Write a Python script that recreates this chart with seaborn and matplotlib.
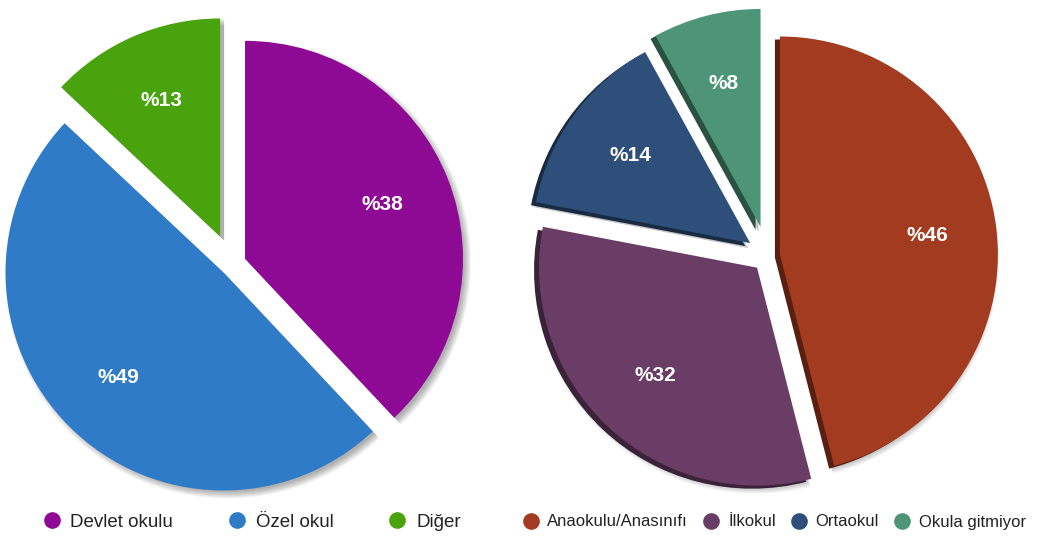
import numpy as np
import seaborn as sns
import matplotlib.pyplot as plt
from matplotlib.lines import Line2D
from matplotlib.colors import to_rgb

# left pie: school type
school_labels = ["Devlet okulu", "Özel okul", "Diğer"]
school_values = [38, 49, 13]
school_colors = ["#8f0a94", "#2f7bc8", "#48a30c"]
school_explode = [14, 12, 30]

# right pie: education level
level_labels = ["Anaokulu/Anasınıfı", "İlkokul", "Ortaokul", "Okula gitmiyor"]
level_values = [46, 32, 14, 8]
level_colors = ["#a23b1f", "#6a3d66", "#2d4f7a", "#4e9478"]
level_explode = [12, 16, 22, 30]

sns.set_theme(style="white")
plt.rcParams["font.family"] = ["Liberation Sans", "DejaVu Sans"]

W, H = 1037, 539
fig = plt.figure(figsize=(W / 100, H / 100), dpi=100)
ax = fig.add_axes([0, 0, 1, 1])

R = 218
left_c = (232, H - 264)
right_c = (768, H - 256)

common = dict(startangle=90, counterclock=False)
label_style = dict(color="white", fontsize=15, fontweight="bold")

# soft grey shadow under the left pie
for k in range(-3, 5):
    ax.pie(school_values, explode=school_explode, radius=R + k,
           center=(left_c[0] + 4, left_c[1] - 4), colors=["black"] * 3,
           wedgeprops=dict(alpha=0.045, linewidth=0), frame=True, **common)

ax.pie(school_values, explode=school_explode, radius=R, center=left_c,
       colors=sns.color_palette(school_colors),
       autopct=lambda p: f"%{p:.0f}", pctdistance=0.68,
       textprops=label_style, wedgeprops=dict(linewidth=0),
       frame=True, **common)

# right pie: soft shadow + dark extruded side, then the face
for k in range(-2, 4):
    ax.pie(level_values, explode=level_explode, radius=R + k,
           center=(right_c[0] - 2, right_c[1] - 5), colors=["black"] * 4,
           wedgeprops=dict(alpha=0.04, linewidth=0), frame=True, **common)
dark = [tuple(np.array(to_rgb(c)) * 0.55) for c in level_colors]
ax.pie(level_values, explode=level_explode, radius=R,
       center=(right_c[0] - 5, right_c[1] - 3), colors=dark,
       wedgeprops=dict(linewidth=0), frame=True, **common)
ax.pie(level_values, explode=level_explode, radius=R, center=right_c,
       colors=sns.color_palette(level_colors),
       autopct=lambda p: f"%{p:.0f}", pctdistance=0.68,
       textprops=label_style, wedgeprops=dict(linewidth=0),
       frame=True, **common)

ax.set_xlim(0, W)
ax.set_ylim(0, H)
ax.set_aspect("equal")
ax.axis("off")


def handles(colors):
    return [Line2D([], [], marker="o", linestyle="", markersize=12,
                   markerfacecolor=c, markeredgewidth=0) for c in colors]


fig.legend(handles(school_colors), school_labels, ncol=3, frameon=False,
           loc="center left", bbox_to_anchor=(33 / W, 1 - 522 / H),
           fontsize=13.5, handlelength=1.0, handletextpad=0.5,
           columnspacing=2.9, borderpad=0, labelcolor="#222222")
fig.legend(handles(level_colors), level_labels, ncol=4, frameon=False,
           loc="center left", bbox_to_anchor=(514 / W, 1 - 522 / H),
           fontsize=12, handlelength=1.0, handletextpad=0.5,
           columnspacing=0.9, borderpad=0, labelcolor="#222222")

fig.savefig("out.png", dpi=100, facecolor="white")
